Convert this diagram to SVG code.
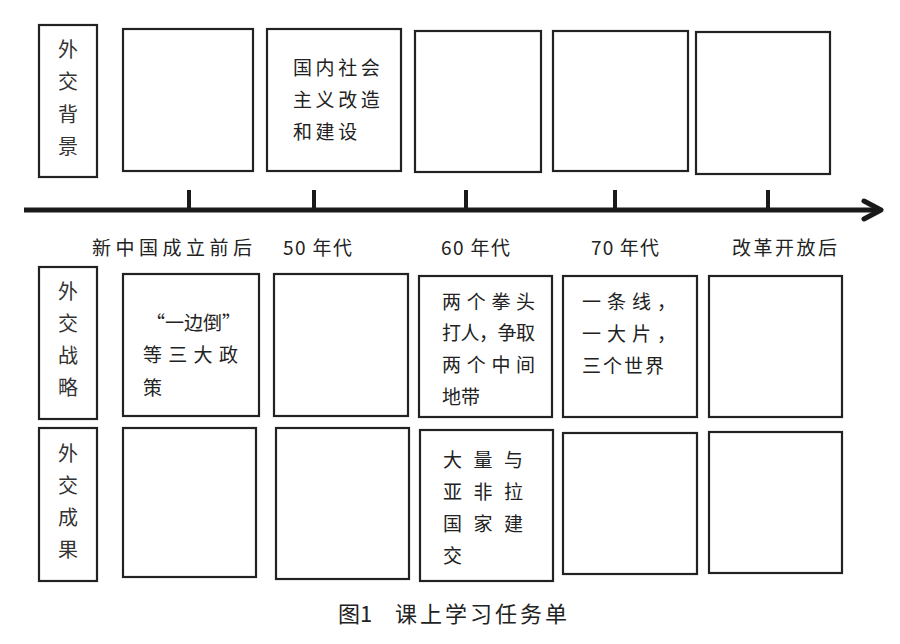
<svg xmlns="http://www.w3.org/2000/svg" width="900" height="644" viewBox="0 0 900 644">
  <style>
    .box { fill: #fff; stroke: #222; stroke-width: 2.2; }
    .t { font-family: "Noto Sans CJK SC", "Noto Sans", sans-serif; font-size: 19px; fill: #222; }
    .hdr { font-family: "Noto Sans CJK SC", "Noto Sans", sans-serif; font-size: 20px; fill: #333; text-anchor: middle; }
    .lbl { font-family: "Noto Sans CJK SC", "Noto Sans", sans-serif; font-size: 19px; fill: #222; }
    .cap { font-family: "Noto Sans CJK SC", "Noto Sans", sans-serif; font-size: 22px; fill: #222; }
    .axis { stroke: #1a1a1a; stroke-width: 5; fill: none; }
    .tick { stroke: #1a1a1a; stroke-width: 4; }
  </style>
  <rect width="900" height="644" fill="#fff"/>

  <!-- row headers -->
  <g id="hdr-background">
    <rect class="box" x="39" y="25" width="58" height="152"/>
    <text class="hdr"><tspan x="68" y="57">外</tspan><tspan x="68" y="89">交</tspan><tspan x="68" y="122">背</tspan><tspan x="68" y="154">景</tspan></text>
  </g>
  <g id="hdr-strategy">
    <rect class="box" x="39" y="267" width="58" height="152"/>
    <text class="hdr"><tspan x="68" y="299">外</tspan><tspan x="68" y="331">交</tspan><tspan x="68" y="363">战</tspan><tspan x="68" y="395">略</tspan></text>
  </g>
  <g id="hdr-result">
    <rect class="box" x="39" y="428" width="58" height="153"/>
    <text class="hdr"><tspan x="68" y="461">外</tspan><tspan x="68" y="493">交</tspan><tspan x="68" y="525">成</tspan><tspan x="68" y="557">果</tspan></text>
  </g>

  <!-- background row -->
  <g id="bg-1"><rect class="box" x="123" y="29" width="130" height="142"/></g>
  <g id="bg-2">
    <rect class="box" x="267" y="29" width="134" height="142"/>
    <text class="t" letter-spacing="3.6"><tspan x="293" y="75">国内社会</tspan><tspan x="293" y="107">主义改造</tspan><tspan x="293" y="139">和建设</tspan></text>
  </g>
  <g id="bg-3"><rect class="box" x="415" y="31" width="126" height="141"/></g>
  <g id="bg-4"><rect class="box" x="553" y="31" width="135" height="140"/></g>
  <g id="bg-5"><rect class="box" x="696" y="32" width="134" height="142"/></g>

  <!-- timeline -->
  <g id="connectors">
    <line class="axis" x1="24" y1="210" x2="880" y2="210"/>
    <polyline class="axis" points="864,201 881,210 864,219" stroke-linecap="round" stroke-linejoin="round"/>
    <line class="tick" x1="189" y1="190" x2="189" y2="210"/>
    <line class="tick" x1="314" y1="190" x2="314" y2="210"/>
    <line class="tick" x1="466" y1="190" x2="466" y2="210"/>
    <line class="tick" x1="615" y1="190" x2="615" y2="210"/>
    <line class="tick" x1="768" y1="190" x2="768" y2="210"/>
  </g>

  <!-- period labels -->
  <g id="period-labels">
    <text class="lbl" x="92" y="255" letter-spacing="4.5">新中国成立前后</text>
    <text class="lbl" x="283" y="255" textLength="69" lengthAdjust="spacing">50 年代</text>
    <text class="lbl" x="441" y="255" textLength="69" lengthAdjust="spacing">60 年代</text>
    <text class="lbl" x="591" y="255" textLength="68" lengthAdjust="spacing">70 年代</text>
    <text class="lbl" x="732" y="255" letter-spacing="2.5">改革开放后</text>
  </g>

  <!-- strategy row -->
  <g id="st-1">
    <rect class="box" x="123" y="274" width="136" height="142"/>
    <text class="t" x="146" y="330" textLength="95" lengthAdjust="spacing">“一边倒”</text>
    <text class="t" x="143" y="362" letter-spacing="6.3">等三大政</text>
    <text class="t" x="143" y="395">策</text>
  </g>
  <g id="st-2"><rect class="box" x="274" y="274" width="134" height="142"/></g>
  <g id="st-3">
    <rect class="box" x="419" y="276" width="133" height="141"/>
    <text class="t" x="442" y="309" letter-spacing="5.7">两个拳头</text>
    <text class="t" x="442" y="340" textLength="93" lengthAdjust="spacing">打人，争取</text>
    <text class="t" x="442" y="372" letter-spacing="5.7">两个中间</text>
    <text class="t" x="442" y="404">地带</text>
  </g>
  <g id="st-4">
    <rect class="box" x="563" y="276" width="134" height="141"/>
    <text class="t" x="582" y="309" letter-spacing="6">一条线，</text>
    <text class="t" x="582" y="341" letter-spacing="6">一大片，</text>
    <text class="t" x="582" y="373" letter-spacing="2">三个世界</text>
  </g>
  <g id="st-5"><rect class="box" x="709" y="276" width="133" height="141"/></g>

  <!-- result row -->
  <g id="rs-1"><rect class="box" x="123" y="428" width="133" height="149"/></g>
  <g id="rs-2"><rect class="box" x="276" y="428" width="133" height="151"/></g>
  <g id="rs-3">
    <rect class="box" x="420" y="430" width="133" height="151"/>
    <text class="t" x="443" y="467" letter-spacing="11.5">大量与</text>
    <text class="t" x="443" y="499" letter-spacing="11.5">亚非拉</text>
    <text class="t" x="443" y="531" letter-spacing="11.5">国家建</text>
    <text class="t" x="443" y="563">交</text>
  </g>
  <g id="rs-4"><rect class="box" x="563" y="433" width="134" height="141"/></g>
  <g id="rs-5"><rect class="box" x="709" y="432" width="133" height="141"/></g>

  <!-- caption -->
  <g id="caption">
    <text class="cap" y="622"><tspan x="338">图1</tspan><tspan x="395" letter-spacing="3">课上学习任务单</tspan></text>
  </g>
</svg>
